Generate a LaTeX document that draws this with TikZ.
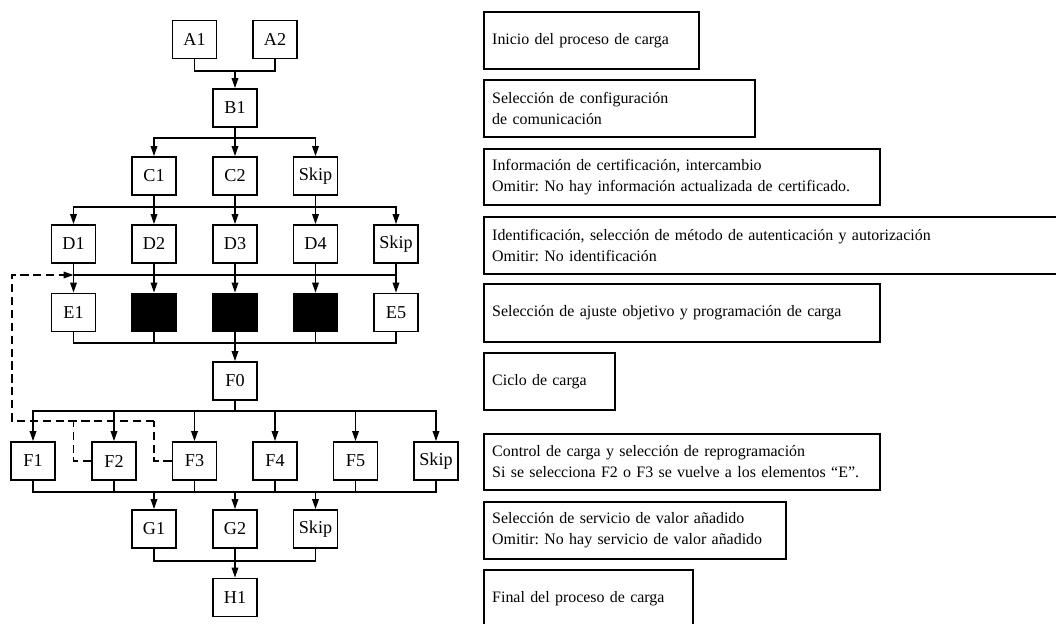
\documentclass[tikz,border=0pt]{standalone}
\usepackage{fontspec}
\setmainfont{Liberation Serif}
\usetikzlibrary{arrows.meta}
\frenchspacing

\tikzset{
  blk/.style={draw, line width=1.6pt, minimum width=1.32cm, minimum height=1.14cm, inner sep=1pt, font=\fontsize{15.5}{17}\selectfont},
  blkfill/.style={blk, fill=black},
  note/.style={draw, line width=1.5pt, anchor=north west, align=left, inner xsep=0pt, inner ysep=0pt,
    execute at begin node={\leftskip=0.15cm}, font=\fontsize{13.6}{18}\selectfont},
  con/.style={line width=1.1pt},
  arr/.style={con, -{Triangle[length=0.3cm, width=0.2cm]}},
  back/.style={arr, dash pattern=on 7pt off 4pt},
}

\begin{document}
\begin{tikzpicture}[x=0.03cm, y=-0.03cm]
    \useasboundingbox (0,0) rectangle (1056,624);
    \clip (0,0) rectangle (1056,624);

    % boxes of the sequence
    \node[blk] (A1) at (194.5,39.5) {A1};
    \node[blk] (A2) at (275,39.5)   {A2};
    \node[blk] (B1) at (235,108)    {B1};
    \node[blk] (C1) at (154,176)    {C1};
    \node[blk] (C2) at (235,176)    {C2};
    \node[blk] (Cs) at (315.5,176)  {Skip};
    \node[blk] (D1) at (73.5,244)   {D1};
    \node[blk] (D2) at (154,244)    {D2};
    \node[blk] (D3) at (235,244)    {D3};
    \node[blk] (D4) at (315.5,244)  {D4};
    \node[blk] (Ds) at (396,244)    {Skip};
    \node[blk]     (E1) at (73.5,312.5)  {E1};
    \node[blkfill] (E2) at (154,312.5)   {};
    \node[blkfill] (E3) at (235,312.5)   {};
    \node[blkfill] (E4) at (315.5,312.5) {};
    \node[blk]     (E5) at (396,312.5)   {E5};
    \node[blk] (F0) at (235,381)    {F0};
    \node[blk] (F1) at (33,461)     {F1};
    \node[blk] (F2) at (114,461)    {F2};
    \node[blk] (F3) at (194.5,461)  {F3};
    \node[blk] (F4) at (275,461)    {F4};
    \node[blk] (F5) at (355.5,461)  {F5};
    \node[blk] (Fs) at (436,461)    {Skip};
    \node[blk] (G1) at (154,529)    {G1};
    \node[blk] (G2) at (235,529)    {G2};
    \node[blk] (Gs) at (315.5,529)  {Skip};
    \node[blk] (H1) at (235,597.5)  {H1};

    % bus points
    \coordinate (jA) at (235,71);
    \coordinate (jB) at (235,138);
    \coordinate (jC) at (235,207);
    \coordinate (jD) at (235,275);
    \coordinate (jE) at (235,343);
    \coordinate (jF) at (235,411);
    \coordinate (jG) at (235,492);
    \coordinate (jH) at (235,561);

    \draw[con] (A1.south) |- (jA) -| (A2.south);
    \draw[arr] (jA) -- (B1.north);

    \draw[con] (B1.south) -- (jB);
    \foreach \n in {C1,C2,Cs} \draw[arr] (jB) -| (\n.north);

    \foreach \n in {C1,C2,Cs} \draw[con] (\n.south) -- (\n.south |- jC);
    \foreach \n in {D1,D2,D3,D4,Ds} \draw[arr] (jC) -| (\n.north);

    \draw[con] (D1.south |- jD) -- (Ds.south |- jD);
    \draw[arr] (D1.south) -- (E1.north);
    \draw[arr] (D2.south) -- (E2.north);
    \draw[arr] (D3.south) -- (E3.north);
    \draw[arr] (D4.south) -- (E4.north);
    \draw[arr] (Ds.south) -- (E5.north);

    \foreach \n in {E1,E2,E3,E4,E5} \draw[con] (\n.south) |- (jE);
    \draw[arr] (jE) -- (F0.north);

    \draw[con] (F0.south) -- (jF);
    \foreach \n in {F1,F2,F3,F4,F5,Fs} \draw[arr] (jF) -| (\n.north);

    \foreach \n in {F1,F2,F3,F4,F5,Fs} \draw[con] (\n.south) |- (jG);
    \foreach \n in {G1,G2,Gs} \draw[arr] (jG) -| (\n.north);

    \foreach \n in {G1,G2,Gs} \draw[con] (\n.south) |- (jH);
    \draw[arr] (jH) -- (H1.north);

    % way back to the E row
    \coordinate (rF2) at (73.5,421);
    \coordinate (rF3) at (154,421);
    \coordinate (rL)  at (12,421);
    \coordinate (rT)  at (12,275);
    \draw[con, dash pattern=on 7pt off 4pt] (F2.west) -| (rF2);
    \draw[con, dash pattern=on 7pt off 4pt] (F3.west) -| (rF3);
    \draw[back] (rF3) -- (rL) -- (rT) -- (D1.south |- jD);

    % descriptions
    \node[note, minimum width=6.45cm, minimum height=1.71cm, text width=6.25cm] (nA) at (483,11)  {Inicio del proceso de carga};
    \node[note, minimum width=8.13cm, minimum height=1.71cm, text width=7.93cm] (nB) at (483,79)  {Selección de configuración\\de comunicación};
    \node[note, minimum width=11.88cm, minimum height=1.68cm, text width=11.68cm] (nC) at (483,148) {Información de certificación, intercambio\\Omitir: No hay información actualizada de certificado.};
    \node[note, minimum width=17.4cm, minimum height=1.71cm, text width=17.2cm] (nD) at (483,216) {Identificación, selección de método de autenticación y autorización\\Omitir: No identificación};
    \node[note, minimum width=11.88cm, minimum height=1.74cm, text width=11.68cm] (nE) at (483,283) {Selección de ajuste objetivo y programación de carga};
    \node[note, minimum width=3.93cm, minimum height=1.71cm, text width=3.73cm] (nF) at (483,352) {Ciclo de carga};
    \node[note, minimum width=11.88cm, minimum height=1.68cm, text width=11.68cm] (nG) at (483,433) {Control de carga y selección de reprogramación\\Si se selecciona F2 o F3 se vuelve a los elementos “E”.};
    \node[note, minimum width=9.06cm, minimum height=1.71cm, text width=8.86cm] (nH) at (483,501) {Selección de servicio de valor añadido\\Omitir: No hay servicio de valor añadido};
    \node[note, minimum width=6.27cm, minimum height=1.71cm, text width=6.07cm] (nI) at (483,569) {Final del proceso de carga};
\end{tikzpicture}
\end{document}
